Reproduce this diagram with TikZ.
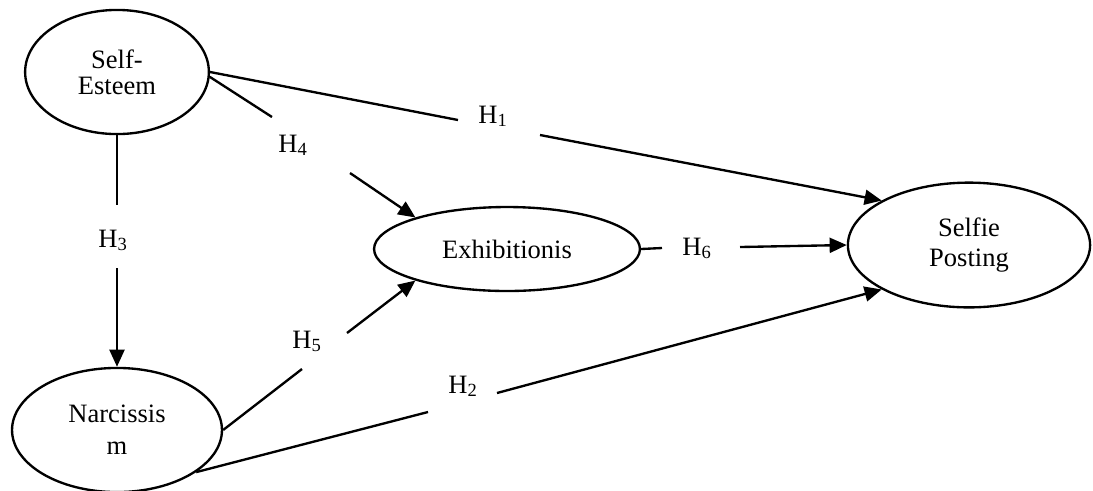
\documentclass[tikz,border=0pt]{standalone}
\usepackage{fontspec}
\setmainfont{Liberation Serif}
\usetikzlibrary{shapes.geometric,arrows.meta}

\begin{document}
\begin{tikzpicture}[x=0.01643cm, y=-0.01643cm,
		construct/.style={draw, ellipse, line width=1.1pt, inner sep=0pt, align=center,
			font=\fontsize{12.4}{13.8}\selectfont},
		hyp/.style={anchor=base west, inner sep=0pt, font=\fontsize{12.4}{13.8}\selectfont},
		link/.style={line width=1.1pt},
		arrowlink/.style={link, -{Triangle[length=8pt, width=7pt]}}]
		\useasboundingbox (0,0) rectangle (1093,490);
		% constructs
		\node[construct, minimum width=3.02cm, minimum height=2.04cm] (esteem) at (117,72) {Self-\\[-1.5pt]Esteem};
		\node[construct, minimum width=3.45cm, minimum height=2.04cm] (narc) at (117,430) {Narcissis\\[1pt]m};
		\node[construct, minimum width=4.37cm, minimum height=1.38cm] (exhib) at (507,249) {Exhibitionis};
		\node[construct, minimum width=3.98cm, minimum height=2.05cm] (selfie) at (969,245) {Selfie\\Posting};
		% hypothesis labels
		\node[hyp] (h1) at (478,123) {H\textsubscript{1}};
		\node[hyp] (h2) at (448,393) {H\textsubscript{2}};
		\node[hyp] (h3) at (98,247) {H\textsubscript{3}};
		\node[hyp] (h4) at (278,152) {H\textsubscript{4}};
		\node[hyp] (h5) at (292,348) {H\textsubscript{5}};
		\node[hyp] (h6) at (682,255) {H\textsubscript{6}};
		% gaps around the labels
		\coordinate (h1in) at (458,120);
		\coordinate (h1out) at (540,135);
		\coordinate (h2in) at (428,412);
		\coordinate (h2out) at (497,393);
		\coordinate (h3in) at (117,205);
		\coordinate (h3out) at (117,268);
		\coordinate (h4in) at (272,117);
		\coordinate (h4out) at (350,173);
		\coordinate (h5in) at (302,369);
		\coordinate (h5out) at (347,333);
		\coordinate (h6in) at (662,248);
		\coordinate (h6out) at (740,247);
		% paths
		\draw[link] (esteem.east) -- (h1in);
		\draw[arrowlink] (h1out) -- (selfie.153);
		\draw[link] (narc.332) -- (h2in);
		\draw[arrowlink] (h2out) -- (selfie.207);
		\draw[link] (esteem.south) -- (h3in);
		\draw[arrowlink] (h3out) -- (narc.north);
		\draw[link] (esteem.-3) -- (h4in);
		\draw[arrowlink] (h4out) -- (exhib.161);
		\draw[link] (narc.east) -- (h5in);
		\draw[arrowlink] (h5out) -- (exhib.199);
		\draw[link] (exhib.east) -- (h6in);
		\draw[arrowlink] (h6out) -- (selfie.west);
\end{tikzpicture}
\end{document}
